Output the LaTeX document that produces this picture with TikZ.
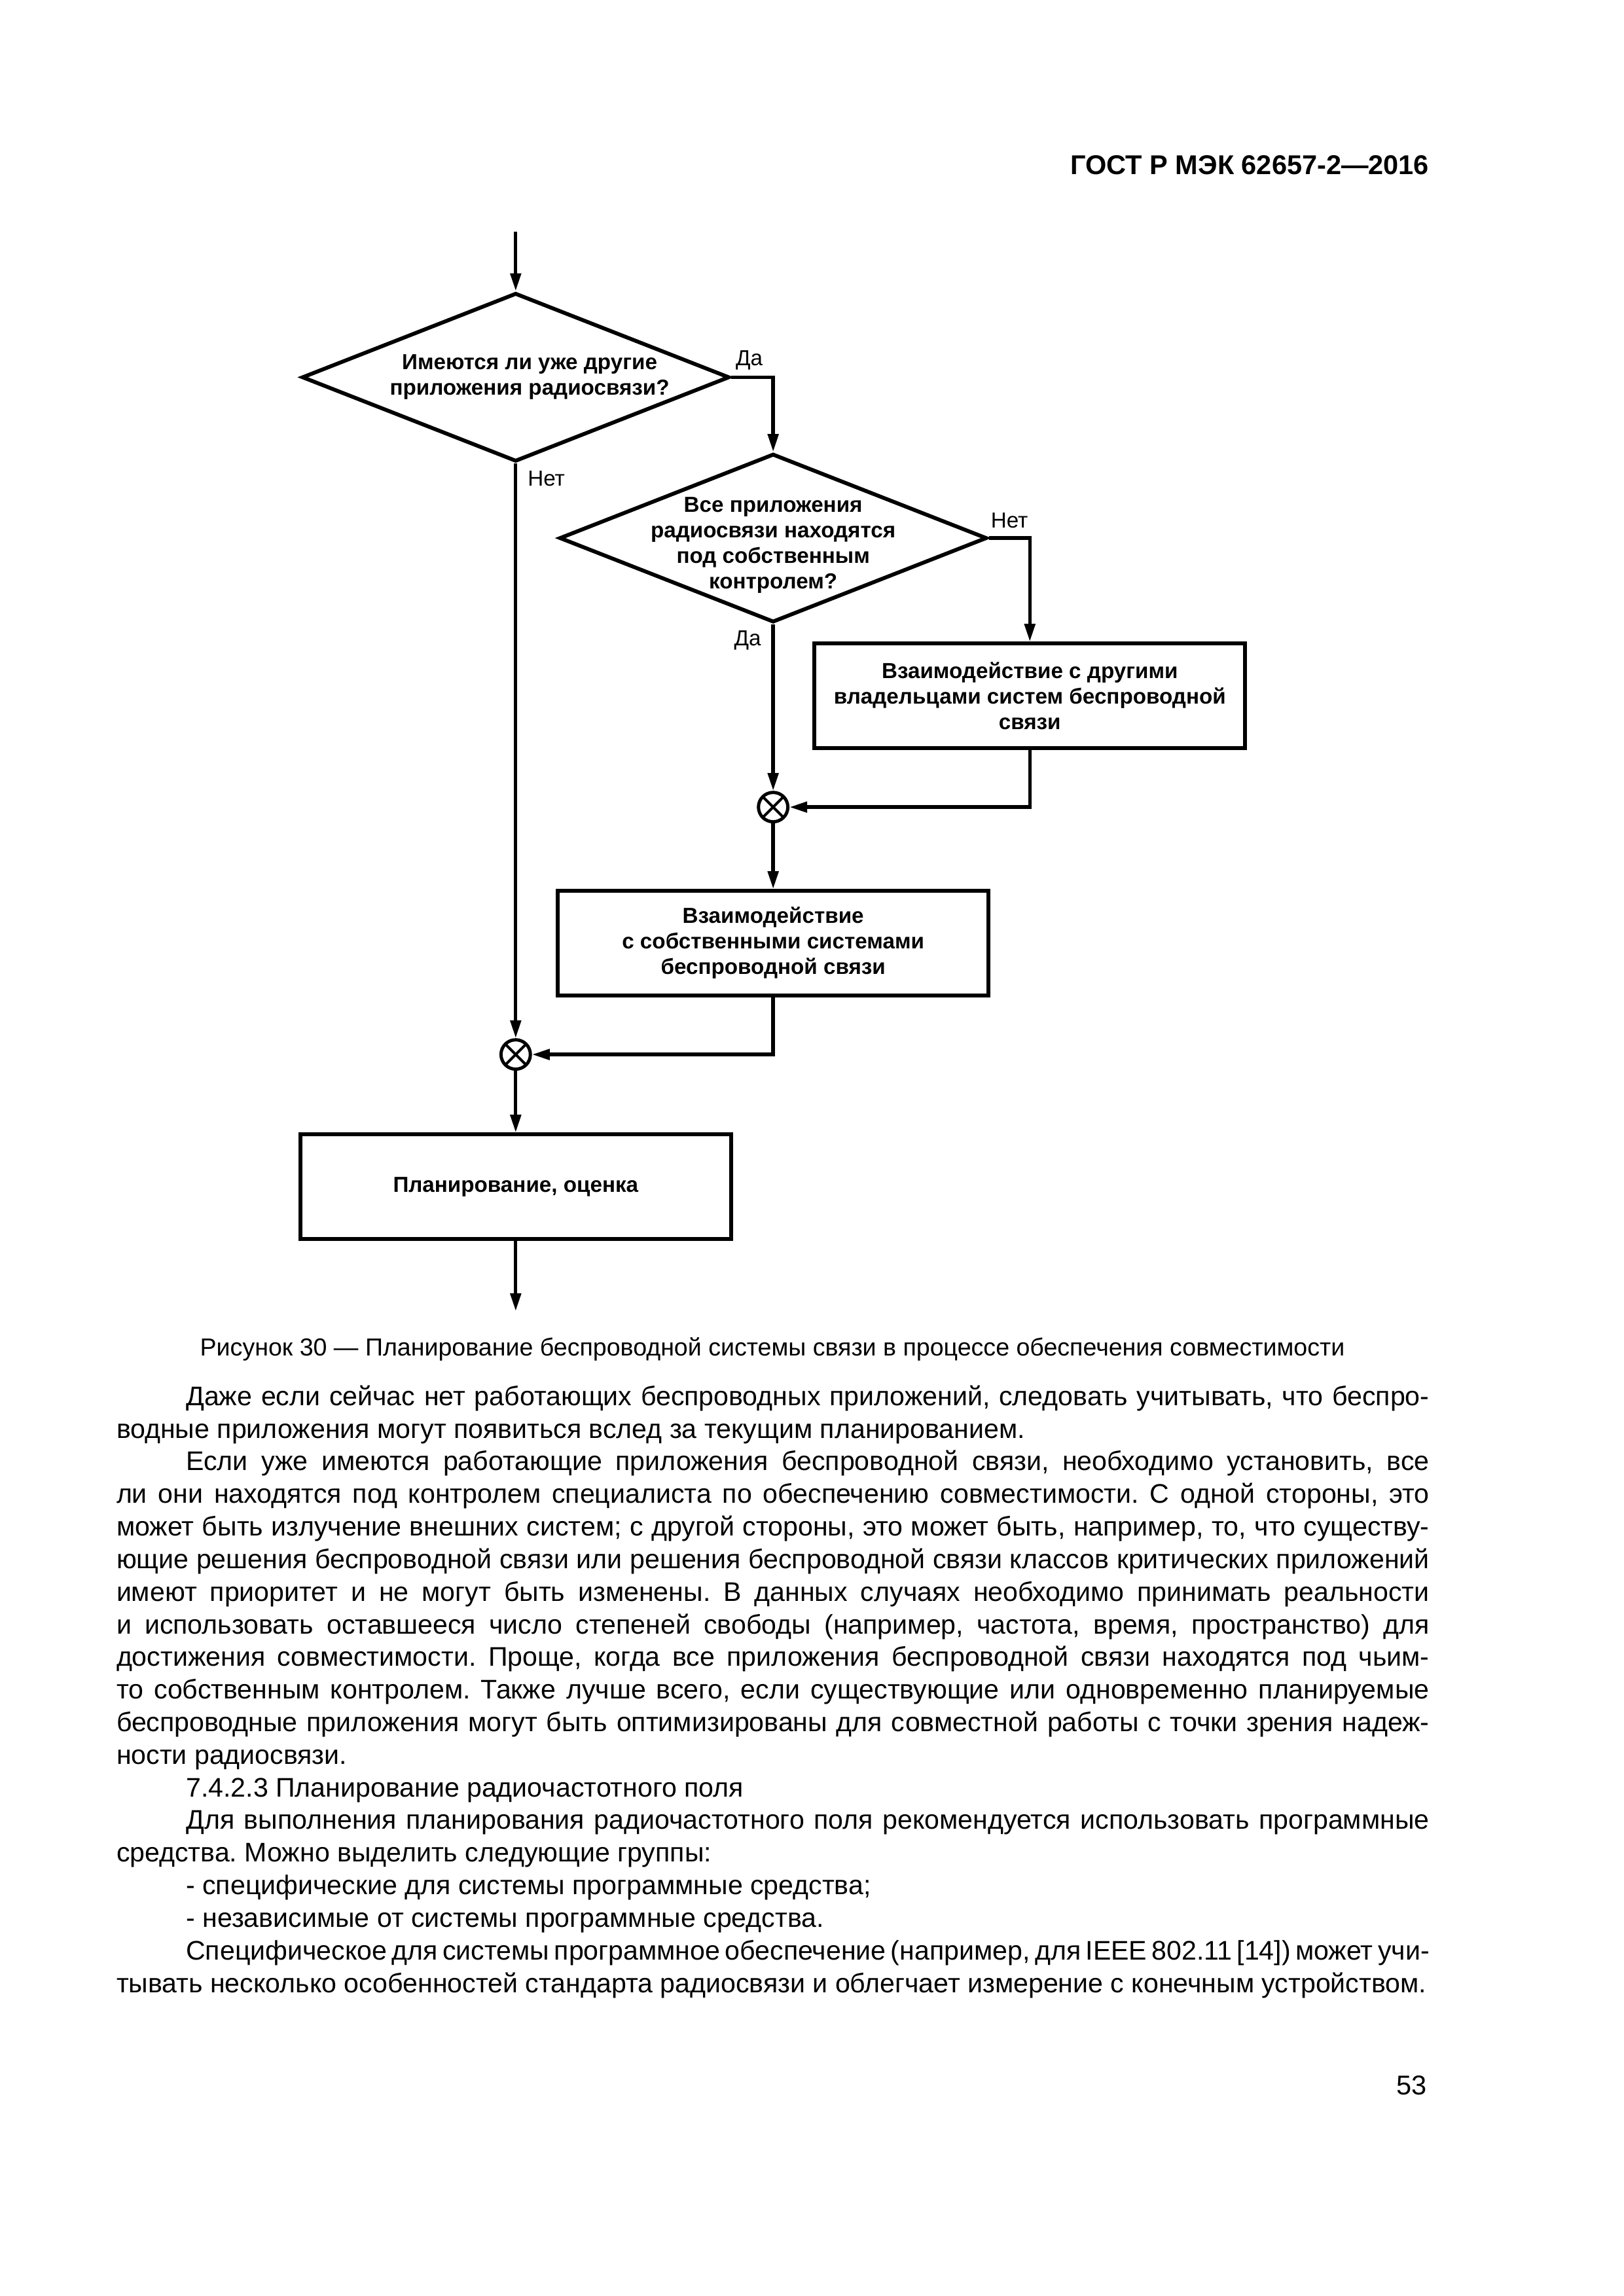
\documentclass[tikz,border=0pt]{standalone}
\usepackage{fontspec}
\setmainfont{Liberation Sans}
\usetikzlibrary{shapes.geometric,arrows.meta}

\newlength{\rowwidth}
\setlength{\rowwidth}{169.8mm}
\newcommand{\fullrow}[1]{\hbox to\rowwidth{#1}}
\newcommand{\lastrow}[1]{\hbox to\rowwidth{#1\hfil}}
\newcommand{\indrow}{\hspace*{9mm}}
\newcommand{\bodyspacing}{\frenchspacing\spaceskip=2.75pt plus 3pt minus 1.5pt\relax}

\tikzset{
    question/.style={diamond, draw, line width=0.5mm, inner sep=0pt,
        minimum width=55.3mm, minimum height=21.8mm},
    qtext/.style={inner sep=0pt, align=center, font=\fontsize{8}{9.4}\selectfont\bfseries},
    action/.style={rectangle, draw, line width=0.5mm, minimum width=55.7mm,
        minimum height=13.5mm, align=center, font=\fontsize{8}{9.4}\selectfont\bfseries},
    junction/.style={circle, draw, line width=0.42mm, minimum size=3.8mm, inner sep=0pt,
        path picture={\draw[line width=0.35mm]
            (path picture bounding box.north west) -- (path picture bounding box.south east)
            (path picture bounding box.north east) -- (path picture bounding box.south west);}},
    flowline/.style={line width=0.45mm, -{Triangle[length=2.3mm,width=1.35mm]}},
    answer/.style={inner sep=0pt, font=\fontsize{8}{9.4}\selectfont},
}

\begin{document}
\begin{tikzpicture}[x=1mm, y=-1mm]
                \fill[white] (0,0) rectangle (210,297);
                \useasboundingbox (0,0) rectangle (210,297);
                \node[anchor=base east, inner sep=0pt, font=\fontsize{10}{12}\selectfont\bfseries] (head) at (184.9,22.6) {ГОСТ Р МЭК 62657-2—2016};

                \coordinate (entry) at (66.7,30.0);
                \node[question, label={[qtext, xshift=1.8mm]center:{Имеются ли уже другие\\приложения радиосвязи?}}] (ask1) at (66.7,48.8) {};
                \node[question, label={[qtext, yshift=-0.9mm]center:{Все приложения\\радиосвязи находятся\\под собственным\\контролем?}}] (ask2) at (100.0,69.6) {};
                \node[action] (talk1) at (133.2,90.0) {Взаимодействие с другими\\владельцами систем беспроводной\\связи};
                \node[junction] (merge1) at (100.0,104.4) {};
                \node[action] (talk2) at (100.0,122.0) {Взаимодействие\\с собственными системами\\беспроводной связи};
                \node[junction] (merge2) at (66.7,136.4) {};
                \node[action] (plan) at (66.7,153.5) {Планирование, оценка};
                \coordinate (exit) at (66.7,169.6);

                \node[answer, anchor=base west] (yes1) at (95.1,47.3) {Да};
                \node[answer, anchor=base west] (no1) at (68.2,62.9) {Нет};
                \node[answer, anchor=base west] (no2) at (128.1,68.3) {Нет};
                \node[answer, anchor=base east] (yes2) at (98.5,83.5) {Да};

                \draw[flowline] (entry) -- (ask1);
                \draw[flowline] (ask1.east) -| (ask2.north);
                \draw[flowline] (ask1.south) -- (merge2.north);
                \draw[flowline] (ask2.east) -| (talk1.north);
                \draw[flowline] (ask2.south) -- (merge1.north);
                \draw[flowline] (talk1.south) |- (merge1.east);
                \draw[flowline] (merge1) -- (talk2);
                \draw[flowline] (talk2.south) |- (merge2.east);
                \draw[flowline] (merge2) -- (plan);
                \draw[flowline] (plan) -- (exit);

                \node[anchor=base, inner sep=0pt, font=\fontsize{9.05}{11}\selectfont] (caption) at (99.9,175.4) {Рисунок 30 — Планирование беспроводной системы связи в процессе обеспечения совместимости};

                \node[anchor=base west, inner sep=0pt, text width=169.8mm, font=\fontsize{9.9}{12}\selectfont] (body) at (15,181.8) {\bodyspacing
                    \fullrow{\indrow Даже если сейчас нет работающих беспроводных приложений, следовать учитывать, что беспро-}
                    \lastrow{водные приложения могут появиться вслед за текущим планированием.}
                    \fullrow{\indrow Если уже имеются работающие приложения беспроводной связи, необходимо установить, все}
                    \fullrow{ли они находятся под контролем специалиста по обеспечению совместимости. С одной стороны, это}
                    \fullrow{может быть излучение внешних систем; с другой стороны, это может быть, например, то, что существу-}
                    \fullrow{ющие решения беспроводной связи или решения беспроводной связи классов критических приложений}
                    \fullrow{имеют приоритет и не могут быть изменены. В данных случаях необходимо принимать реальности}
                    \fullrow{и использовать оставшееся число степеней свободы (например, частота, время, пространство) для}
                    \fullrow{достижения совместимости. Проще, когда все приложения беспроводной связи находятся под чьим-}
                    \fullrow{то собственным контролем. Также лучше всего, если существующие или одновременно планируемые}
                    \fullrow{беспроводные приложения могут быть оптимизированы для совместной работы с точки зрения надеж-}
                    \lastrow{ности радиосвязи.}
                    \lastrow{\indrow 7.4.2.3 Планирование радиочастотного поля}
                    \fullrow{\indrow Для выполнения планирования радиочастотного поля рекомендуется использовать программные}
                    \lastrow{средства. Можно выделить следующие группы:}
                    \lastrow{\indrow - специфические для системы программные средства;}
                    \lastrow{\indrow - независимые от системы программные средства.}
                    \fullrow{\indrow Специфическое для системы программное обеспечение (например, для IEEE 802.11 [14]) может учи-}
                    \lastrow{тывать несколько особенностей стандарта радиосвязи и облегчает измерение с конечным устройством.}
                };

                \node[anchor=base east, inner sep=0pt, font=\fontsize{10}{12}\selectfont] (pageno) at (184.6,271.0) {53};
\end{tikzpicture}
\end{document}
